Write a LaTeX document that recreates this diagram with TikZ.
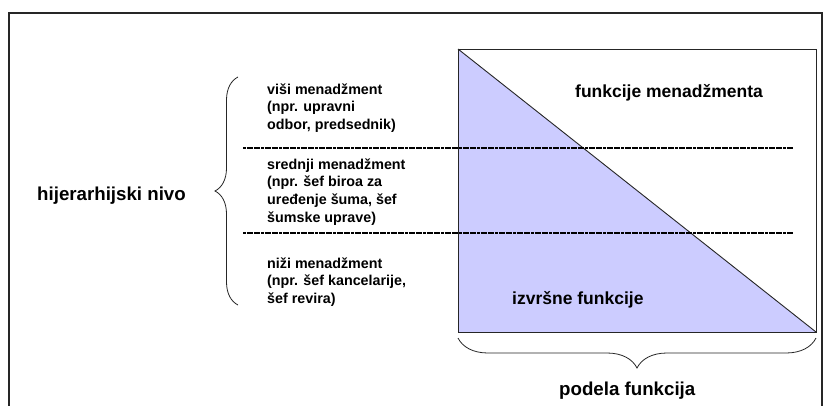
\documentclass[tikz,border=0pt]{standalone}
\usepackage{fontspec}
\setmainfont{Liberation Sans}
\usetikzlibrary{decorations.pathreplacing}
\definecolor{execfill}{HTML}{CCCCFF}
\begin{document}
\begin{tikzpicture}[x=1pt,y=-1pt,
  frameline/.style={line width=1.6pt, draw=black!85},
  boxline/.style={line width=0.9pt, draw=black!85},
  levelsep/.style={line width=1.4pt, draw=black, dash pattern=on 3pt off 0.6pt},
  bracket/.style={decorate, line width=0.8pt, draw=black!85},
  biglabel/.style={font=\bfseries\fontsize{18.7}{22}\selectfont, inner sep=0pt, anchor=base west},
  inlabel/.style={font=\bfseries\fontsize{17.5}{21}\selectfont, inner sep=0pt, anchor=base west},
  levellabel/.style={font=\bfseries\fontsize{14.3}{17.8}\selectfont, align=left, inner sep=0pt, anchor=west}]
\useasboundingbox (0,0) rectangle (824,405);
\clip (0,0) rectangle (824,405);

% outer frame (open at the bottom)
\draw[frameline] (9,420) -- (9,13) -- (822,13) -- (822,420);

% box split into management and executive functions
\coordinate (tl) at (458,49);
\coordinate (tr) at (816,49);
\coordinate (bl) at (458,332);
\coordinate (br) at (816,332);
\fill[execfill] (tl) -- (bl) -- (br) -- cycle;
\draw[boxline] (tl) rectangle (br);
\draw[boxline] (tl) -- (br);

% separators between hierarchy levels
\coordinate (s1a) at (243,148);
\coordinate (s1b) at (793,148);
\coordinate (s2a) at (243,233);
\coordinate (s2b) at (793,233);
\draw[levelsep] (s1a) -- (s1b);
\draw[levelsep] (s2a) -- (s2b);

% braces
\coordinate (lb1) at (238,305);
\coordinate (lb2) at (238,77);
\draw[bracket, decoration={brace, amplitude=23pt}] (lb1) -- (lb2);
\coordinate (bb1) at (816,338);
\coordinate (bb2) at (458,338);
\draw[bracket, decoration={brace, amplitude=30pt}] (bb1) -- (bb2);

% labels
\node[biglabel] (hier) at (37,200) {hijerarhijski nivo};
\node[biglabel] (podela) at (559,395) {podela funkcija};
\node[inlabel] (mgmt) at (575,97) {funkcije menadžmenta};
\node[inlabel] (exec) at (512,304) {izvršne funkcije};

\node[levellabel] (top) at (267,108) {viši menadžment\\(npr. upravni\\odbor, predsednik)};
\node[levellabel] (mid) at (267,192) {srednji menadžment\\(npr. šef biroa za\\uređenje šuma, šef\\šumske uprave)};
\node[levellabel] (low) at (267,282) {niži menadžment\\(npr. šef kancelarije,\\šef revira)};
\end{tikzpicture}
\end{document}
